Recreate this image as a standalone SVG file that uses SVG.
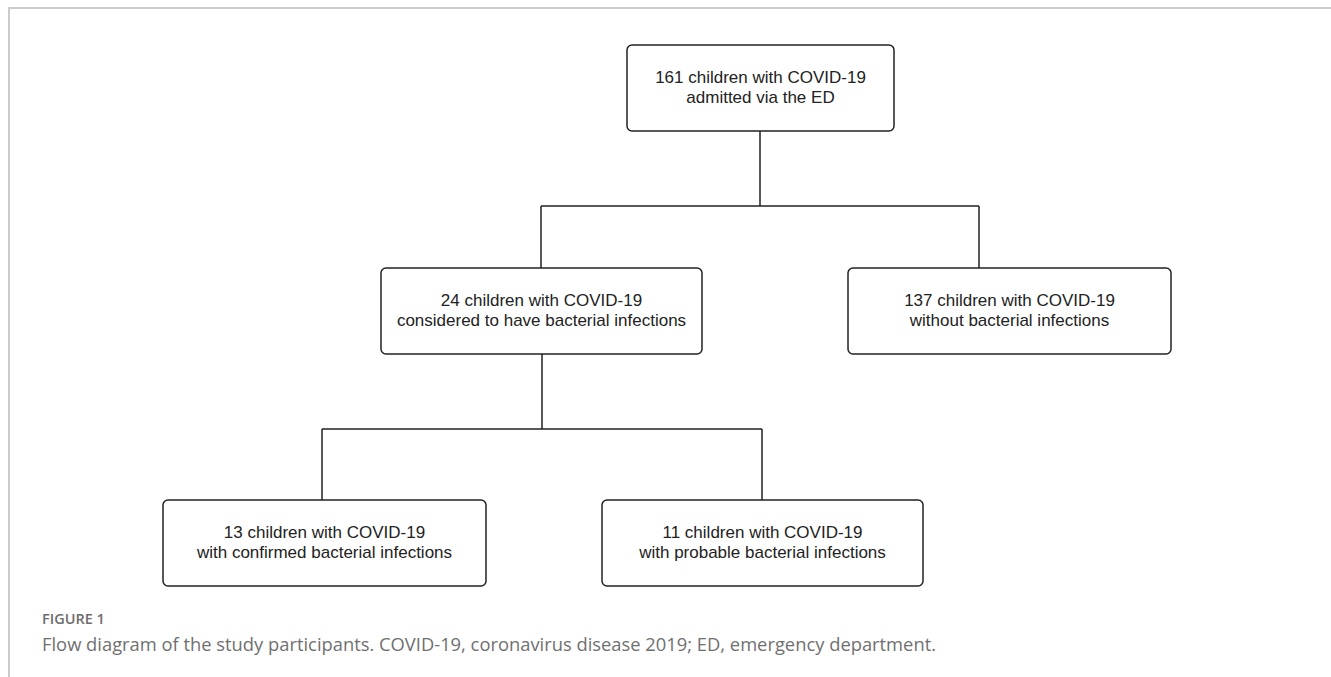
<svg xmlns="http://www.w3.org/2000/svg" width="1331" height="677" viewBox="0 0 1331 677">
<style>
.box{fill:#fff;stroke:#222;stroke-width:1.5}
.lbl{font-family:"Liberation Sans",Arial,sans-serif;font-size:17px;fill:#222;text-anchor:middle}
.con{fill:none;stroke:#222;stroke-width:1.5}
.frame{fill:none;stroke:#cccccc;stroke-width:2}
.fig{font-family:"Open Sans",sans-serif;font-size:14.5px;font-weight:600;fill:#6d6d6d}
.cap{font-family:"Open Sans",sans-serif;font-size:18.4px;fill:#707070}
</style>
<rect width="1331" height="677" fill="#fff"/>
<path class="frame" d="M9,677 V8 H1331"/>
<g id="connectors">
<path class="con" d="M760,131 V206 M541,206 H979 M541,206 V268 M979,206 V268"/>
<path class="con" d="M542,354 V429 M322,429 H762 M322,429 V500 M762,429 V500"/>
</g>
<g id="n1">
<rect class="box" x="627" y="45" width="267" height="86" rx="5"/>
<text class="lbl" x="760.5" y="83">161 children with COVID-19</text>
<text class="lbl" x="760.5" y="103">admitted via the ED</text>
</g>
<g id="n2">
<rect class="box" x="381" y="268" width="321" height="86" rx="5"/>
<text class="lbl" x="541.5" y="306">24 children with COVID-19</text>
<text class="lbl" x="541.5" y="326">considered to have bacterial infections</text>
</g>
<g id="n3">
<rect class="box" x="848" y="268" width="323" height="86" rx="5"/>
<text class="lbl" x="1009.5" y="306">137 children with COVID-19</text>
<text class="lbl" x="1009.5" y="326">without bacterial infections</text>
</g>
<g id="n4">
<rect class="box" x="163" y="500" width="323" height="86" rx="5"/>
<text class="lbl" x="324.5" y="538">13 children with COVID-19</text>
<text class="lbl" x="324.5" y="558">with confirmed bacterial infections</text>
</g>
<g id="n5">
<rect class="box" x="602" y="500" width="321" height="86" rx="5"/>
<text class="lbl" x="762.5" y="538">11 children with COVID-19</text>
<text class="lbl" x="762.5" y="558">with probable bacterial infections</text>
</g>
<text class="fig" x="42" y="624">FIGURE 1</text>
<text class="cap" x="42" y="651" textLength="894" lengthAdjust="spacingAndGlyphs">Flow diagram of the study participants. COVID-19, coronavirus disease 2019; ED, emergency department.</text>
</svg>
